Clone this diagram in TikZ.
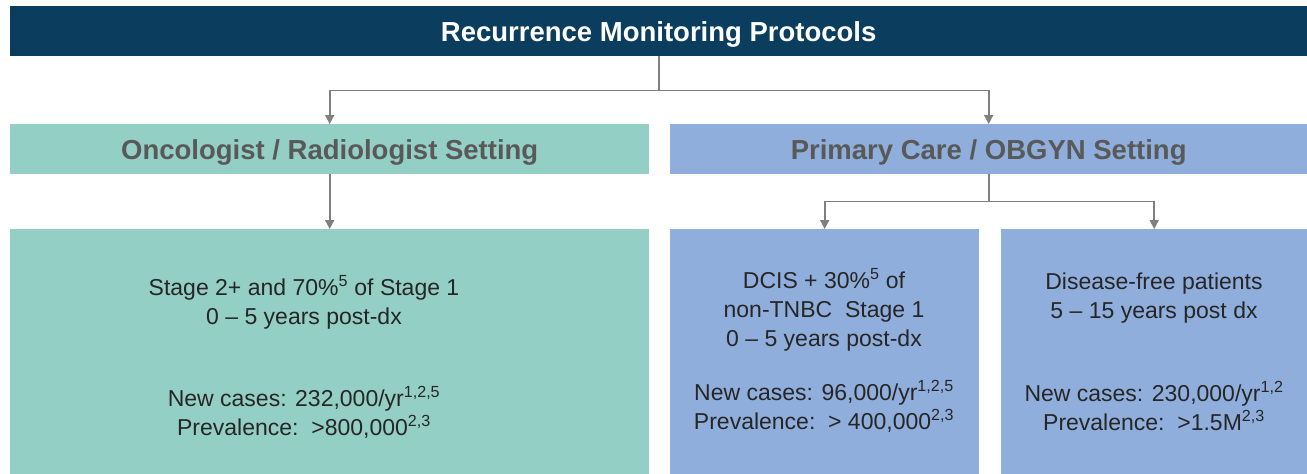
\documentclass[tikz,border=0pt]{standalone}
\usepackage{fontspec}
\setmainfont{Liberation Sans}
\usetikzlibrary{arrows.meta}
\definecolor{navy}{HTML}{0B3D5F}
\definecolor{teal1}{HTML}{93CFC4}
\definecolor{blue1}{HTML}{8FAEDC}
\definecolor{hdrtxt}{HTML}{595959}
\definecolor{bodytxt}{HTML}{262626}
\definecolor{conncol}{HTML}{7F7F7F}
\tikzset{
  box/.style={draw=none, inner sep=0pt, anchor=north west},
  hdr/.style={font=\fontsize{27.5}{30}\selectfont\bfseries, text=hdrtxt},
  body/.style={font=\fontsize{23}{29}\selectfont, text=bodytxt, align=center, inner sep=0pt},
  conn/.style={draw=conncol, line width=1.8pt, -{Triangle[length=9pt,width=9pt]}},
}
\begin{document}
\begin{tikzpicture}[x=1pt,y=-1pt]
\useasboundingbox (0,0) rectangle (1307,474);
% boxes
\node[box, fill=navy, minimum width=1297pt, minimum height=50pt] (title) at (10,6) {};
\node[font=\fontsize{27.5}{30}\selectfont\bfseries, text=white] (titletxt) at ([yshift=-3pt]title.center) {Recurrence Monitoring Protocols};
\node[box, fill=teal1, minimum width=639pt, minimum height=50pt] (onc) at (10,124) {};
\node[hdr] (onctxt) at ([yshift=-3pt]onc.center) {Oncologist / Radiologist Setting};
\node[box, fill=blue1, minimum width=637pt, minimum height=50pt] (pc) at (670,124) {};
\node[hdr] (pctxt) at ([yshift=-3pt]pc.center) {Primary Care / OBGYN Setting};
\node[box, fill=teal1, minimum width=639pt, minimum height=246pt] (oncbig) at (10,229) {};
\node[box, fill=blue1, minimum width=309pt, minimum height=246pt] (dcis) at (670,229) {};
\node[box, fill=blue1, minimum width=306pt, minimum height=246pt] (dfree) at (1001,229) {};
% texts
\node[body] (o1) at (304,302) {Stage 2+ and 70\%\textsuperscript{5} of Stage 1\\0 -- 5 years post-dx};
\node[body] (o2) at (304,412) {New cases: 232,000/yr\textsuperscript{1,2,5}\\Prevalence:\ \ >800,000\textsuperscript{2,3}};
\node[body] (d1) at (824,310) {DCIS + 30\%\textsuperscript{5} of\\non-TNBC\ \ Stage 1\\0 -- 5 years post-dx};
\node[body] (d2) at (824,406) {New cases: 96,000/yr\textsuperscript{1,2,5}\\Prevalence:\ \ > 400,000\textsuperscript{2,3}};
\node[body] (f1) at (1154,298) {Disease-free patients\\5 -- 15 years post dx};
\node[body] (f2) at (1154,406) {New cases: 230,000/yr\textsuperscript{1,2}\\Prevalence:\ \ >1.5M\textsuperscript{2,3}};
% connectors
\coordinate (j1) at ([yshift=-34pt]title.south);
\draw[conn] (title.south) -- (j1) -| (onc.north);
\draw[conn] (j1) -| (pc.north);
\draw[conn] (onc.south) -- (oncbig.north);
\coordinate (j2) at ([yshift=-27pt]pc.south);
\draw[conn] (pc.south) -- (j2) -| (dcis.north);
\draw[conn] (j2) -| (dfree.north);
\end{tikzpicture}
\end{document}
